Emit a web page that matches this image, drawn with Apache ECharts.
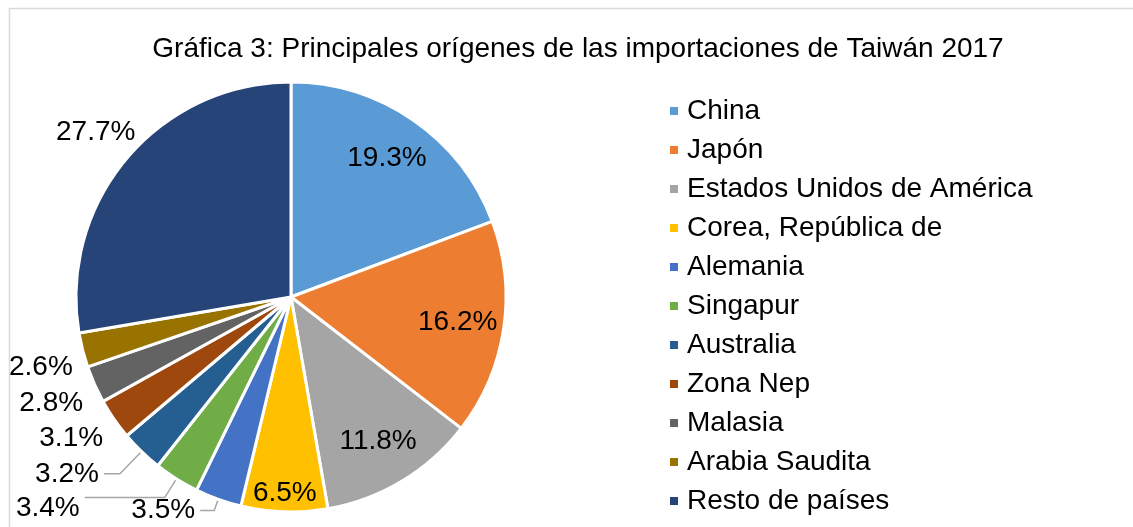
<!DOCTYPE html>
<html><head><meta charset="utf-8">
<script src="https://cdn.jsdelivr.net/npm/echarts@6/dist/echarts.min.js"></script>
<style>html,body{margin:0;padding:0;background:#fff}#c{width:1133px;height:527px}</style>
</head><body><div id="c"></div>
<script>
const titleText = 'Gráfica 3: Principales orígenes de las importaciones de Taiwán 2017';
const categories = ['China','Japón','Estados Unidos de América','Corea, República de','Alemania','Singapur','Australia','Zona Nep','Malasia','Arabia Saudita','Resto de países'];
const values = [19.3,16.2,11.8,6.5,3.5,3.4,3.2,3.1,2.8,2.6,27.7];
const colors = ['#5B9BD5','#ED7D31','#A5A5A5','#FFC000','#4472C4','#70AD47','#255E91','#9E480E','#636363','#997300','#264478'];
const insideIdx = [0,1,2];
const edgeIdx = [3];
const farIdx = [10];
const outsideIdx = [4,6,7,8,9];
const separateIdx = [5];
const leaderIdx = [4,5,6];
const lowIdx = [5,7,8,9];

const FONT = '"Liberation Sans", Arial, sans-serif';
const FS = 28;
const R = 215;
const CENTER = [291, 297];
const fmt = p => p.value.toFixed(1) + '%';
// leader-line lengths per slice [length, length2]
const lineLen = {4:[12,14], 5:[22,80], 6:[31,16], 7:[6,1], 8:[6,1], 9:[5,0]};

const chart = echarts.init(document.getElementById('c'), null, {renderer:'canvas'});

const makeData = (labelIdx) => categories.map((n,i) => {
  const d = {name: n, value: values[i],
    label: {show: labelIdx.includes(i)},
    labelLine: {show: leaderIdx.includes(i) && labelIdx.includes(i)}};
  if (lowIdx.includes(i)) d.label.offset = [0, i === 5 ? 11 : 16];
  if (lineLen[i]) { d.labelLine.length = lineLen[i][0]; d.labelLine.length2 = lineLen[i][1]; }
  return d;
});
const carrier = (idxs) => categories.map((n,i) => ({
  name: n, value: values[i], label: {show: idxs.includes(i)}
}));
const labelStyle = {color:'#000', fontSize: FS, fontFamily: FONT, formatter: fmt, overflow:'none'};
const lineStyle = {color:'#A6A6A6', width:1.5};
const carrierSeries = (name, k, idxs) => ({
  type:'pie', name: name, center: CENTER, radius: [0, R*k], silent:true,
  itemStyle:{color:'transparent', borderWidth:0}, avoidLabelOverlap:false,
  label: Object.assign({position:'inside'}, labelStyle), labelLine:{show:false},
  emphasis:{disabled:true}, data: carrier(idxs)
});

chart.setOption({
  color: colors,
  animation: false,
  textStyle: {fontFamily: FONT},
  graphic: [{type:'rect', left:7, top:6, shape:{width:1200, height:600}, style:{fill:'none', stroke:'#D9D9D9', lineWidth:1.5}, silent:true}],
  title: {text: titleText, left: 573, top: 30, textAlign: 'center',
    textStyle: {fontFamily: FONT, fontSize: FS, fontWeight: 'normal', color: '#000'}},
  legend: {orient:'vertical', left: 668, top: 96, padding: 0, icon:'rect', itemWidth:10, itemHeight:10, itemGap:9,
    data: categories,
    textStyle:{fontFamily: FONT, fontSize: FS, color:'#000', lineHeight:30, padding:[0,0,0,3]}},
  series: [
    {type:'pie', name:'main', center: CENTER, radius: [0, R], startAngle: 90, clockwise: true,
      itemStyle:{borderColor:'#fff', borderWidth:3},
      label: Object.assign({position:'outside'}, labelStyle),
      labelLine: {length: 12, length2: 16, lineStyle: lineStyle},
      labelLayout: {hideOverlap: false},
      emphasis:{disabled:true},
      data: makeData(outsideIdx)},
    {type:'pie', name:'sep', center: CENTER, radius: [0, R], silent:true,
      itemStyle:{color:'transparent', borderWidth:0},
      label: Object.assign({position:'outside'}, labelStyle),
      labelLine: {lineStyle: lineStyle},
      labelLayout: {hideOverlap: false},
      emphasis:{disabled:true},
      data: makeData(separateIdx)},
    carrierSeries('inner', 1.54, insideIdx),
    carrierSeries('edge', 1.8, edgeIdx),
    carrierSeries('far', 2.35, farIdx)
  ]
});
</script></body></html>
